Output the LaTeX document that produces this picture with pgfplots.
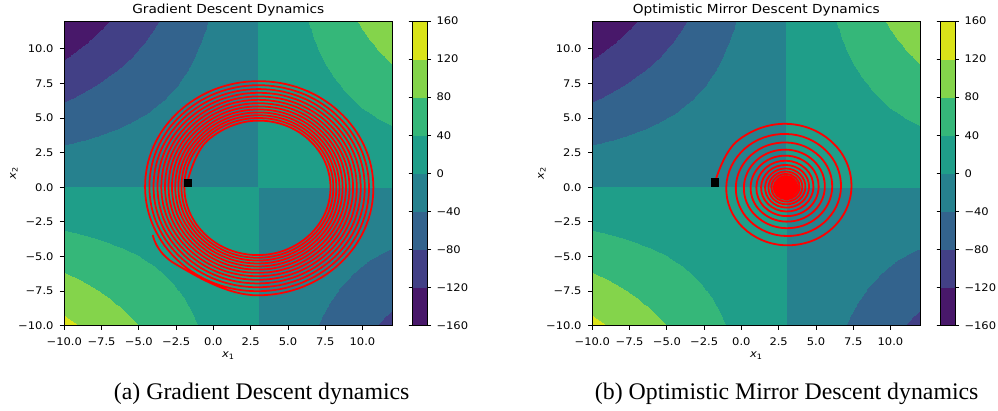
\documentclass[border=0pt]{standalone}
\usepackage{fontspec}
\setmainfont{DejaVu Sans}
\newfontfamily\tickfont[FakeStretch=1.1]{DejaVu Sans}
\newfontfamily\capfont{Liberation Serif}
\usepackage{pgfplots}
\usepackage{pgfplotstable}
\pgfplotsset{compat=1.18}

% f(x1,x2) = (x1-3) x2 on a unit grid (x varies fastest, 23 columns)
\pgfplotstableread[row sep=\\]{
x y z\\
-10 -10 130\\ -9 -10 120\\ -8 -10 110\\ -7 -10 100\\ -6 -10 90\\ -5 -10 80\\ -4 -10 70\\ -3 -10 60\\ -2 -10 50\\ -1 -10 40\\ 0 -10 30\\ 1 -10 20\\ 2 -10 10\\ 3 -10 0\\ 4 -10 -10\\ 5 -10 -20\\ 6 -10 -30\\ 7 -10 -40\\ 8 -10 -50\\ 9 -10 -60\\ 10 -10 -70\\ 11 -10 -80\\ 12 -10 -90\\
-10 -9 117\\ -9 -9 108\\ -8 -9 99\\ -7 -9 90\\ -6 -9 81\\ -5 -9 72\\ -4 -9 63\\ -3 -9 54\\ -2 -9 45\\ -1 -9 36\\ 0 -9 27\\ 1 -9 18\\ 2 -9 9\\ 3 -9 0\\ 4 -9 -9\\ 5 -9 -18\\ 6 -9 -27\\ 7 -9 -36\\ 8 -9 -45\\ 9 -9 -54\\ 10 -9 -63\\ 11 -9 -72\\ 12 -9 -81\\
-10 -8 104\\ -9 -8 96\\ -8 -8 88\\ -7 -8 80\\ -6 -8 72\\ -5 -8 64\\ -4 -8 56\\ -3 -8 48\\ -2 -8 40\\ -1 -8 32\\ 0 -8 24\\ 1 -8 16\\ 2 -8 8\\ 3 -8 0\\ 4 -8 -8\\ 5 -8 -16\\ 6 -8 -24\\ 7 -8 -32\\ 8 -8 -40\\ 9 -8 -48\\ 10 -8 -56\\ 11 -8 -64\\ 12 -8 -72\\
-10 -7 91\\ -9 -7 84\\ -8 -7 77\\ -7 -7 70\\ -6 -7 63\\ -5 -7 56\\ -4 -7 49\\ -3 -7 42\\ -2 -7 35\\ -1 -7 28\\ 0 -7 21\\ 1 -7 14\\ 2 -7 7\\ 3 -7 0\\ 4 -7 -7\\ 5 -7 -14\\ 6 -7 -21\\ 7 -7 -28\\ 8 -7 -35\\ 9 -7 -42\\ 10 -7 -49\\ 11 -7 -56\\ 12 -7 -63\\
-10 -6 78\\ -9 -6 72\\ -8 -6 66\\ -7 -6 60\\ -6 -6 54\\ -5 -6 48\\ -4 -6 42\\ -3 -6 36\\ -2 -6 30\\ -1 -6 24\\ 0 -6 18\\ 1 -6 12\\ 2 -6 6\\ 3 -6 0\\ 4 -6 -6\\ 5 -6 -12\\ 6 -6 -18\\ 7 -6 -24\\ 8 -6 -30\\ 9 -6 -36\\ 10 -6 -42\\ 11 -6 -48\\ 12 -6 -54\\
-10 -5 65\\ -9 -5 60\\ -8 -5 55\\ -7 -5 50\\ -6 -5 45\\ -5 -5 40\\ -4 -5 35\\ -3 -5 30\\ -2 -5 25\\ -1 -5 20\\ 0 -5 15\\ 1 -5 10\\ 2 -5 5\\ 3 -5 0\\ 4 -5 -5\\ 5 -5 -10\\ 6 -5 -15\\ 7 -5 -20\\ 8 -5 -25\\ 9 -5 -30\\ 10 -5 -35\\ 11 -5 -40\\ 12 -5 -45\\
-10 -4 52\\ -9 -4 48\\ -8 -4 44\\ -7 -4 40\\ -6 -4 36\\ -5 -4 32\\ -4 -4 28\\ -3 -4 24\\ -2 -4 20\\ -1 -4 16\\ 0 -4 12\\ 1 -4 8\\ 2 -4 4\\ 3 -4 0\\ 4 -4 -4\\ 5 -4 -8\\ 6 -4 -12\\ 7 -4 -16\\ 8 -4 -20\\ 9 -4 -24\\ 10 -4 -28\\ 11 -4 -32\\ 12 -4 -36\\
-10 -3 39\\ -9 -3 36\\ -8 -3 33\\ -7 -3 30\\ -6 -3 27\\ -5 -3 24\\ -4 -3 21\\ -3 -3 18\\ -2 -3 15\\ -1 -3 12\\ 0 -3 9\\ 1 -3 6\\ 2 -3 3\\ 3 -3 0\\ 4 -3 -3\\ 5 -3 -6\\ 6 -3 -9\\ 7 -3 -12\\ 8 -3 -15\\ 9 -3 -18\\ 10 -3 -21\\ 11 -3 -24\\ 12 -3 -27\\
-10 -2 26\\ -9 -2 24\\ -8 -2 22\\ -7 -2 20\\ -6 -2 18\\ -5 -2 16\\ -4 -2 14\\ -3 -2 12\\ -2 -2 10\\ -1 -2 8\\ 0 -2 6\\ 1 -2 4\\ 2 -2 2\\ 3 -2 0\\ 4 -2 -2\\ 5 -2 -4\\ 6 -2 -6\\ 7 -2 -8\\ 8 -2 -10\\ 9 -2 -12\\ 10 -2 -14\\ 11 -2 -16\\ 12 -2 -18\\
-10 -1 13\\ -9 -1 12\\ -8 -1 11\\ -7 -1 10\\ -6 -1 9\\ -5 -1 8\\ -4 -1 7\\ -3 -1 6\\ -2 -1 5\\ -1 -1 4\\ 0 -1 3\\ 1 -1 2\\ 2 -1 1\\ 3 -1 0\\ 4 -1 -1\\ 5 -1 -2\\ 6 -1 -3\\ 7 -1 -4\\ 8 -1 -5\\ 9 -1 -6\\ 10 -1 -7\\ 11 -1 -8\\ 12 -1 -9\\
-10 0 0\\ -9 0 0\\ -8 0 0\\ -7 0 0\\ -6 0 0\\ -5 0 0\\ -4 0 0\\ -3 0 0\\ -2 0 0\\ -1 0 0\\ 0 0 0\\ 1 0 0\\ 2 0 0\\ 3 0 0\\ 4 0 0\\ 5 0 0\\ 6 0 0\\ 7 0 0\\ 8 0 0\\ 9 0 0\\ 10 0 0\\ 11 0 0\\ 12 0 0\\
-10 1 -13\\ -9 1 -12\\ -8 1 -11\\ -7 1 -10\\ -6 1 -9\\ -5 1 -8\\ -4 1 -7\\ -3 1 -6\\ -2 1 -5\\ -1 1 -4\\ 0 1 -3\\ 1 1 -2\\ 2 1 -1\\ 3 1 0\\ 4 1 1\\ 5 1 2\\ 6 1 3\\ 7 1 4\\ 8 1 5\\ 9 1 6\\ 10 1 7\\ 11 1 8\\ 12 1 9\\
-10 2 -26\\ -9 2 -24\\ -8 2 -22\\ -7 2 -20\\ -6 2 -18\\ -5 2 -16\\ -4 2 -14\\ -3 2 -12\\ -2 2 -10\\ -1 2 -8\\ 0 2 -6\\ 1 2 -4\\ 2 2 -2\\ 3 2 0\\ 4 2 2\\ 5 2 4\\ 6 2 6\\ 7 2 8\\ 8 2 10\\ 9 2 12\\ 10 2 14\\ 11 2 16\\ 12 2 18\\
-10 3 -39\\ -9 3 -36\\ -8 3 -33\\ -7 3 -30\\ -6 3 -27\\ -5 3 -24\\ -4 3 -21\\ -3 3 -18\\ -2 3 -15\\ -1 3 -12\\ 0 3 -9\\ 1 3 -6\\ 2 3 -3\\ 3 3 0\\ 4 3 3\\ 5 3 6\\ 6 3 9\\ 7 3 12\\ 8 3 15\\ 9 3 18\\ 10 3 21\\ 11 3 24\\ 12 3 27\\
-10 4 -52\\ -9 4 -48\\ -8 4 -44\\ -7 4 -40\\ -6 4 -36\\ -5 4 -32\\ -4 4 -28\\ -3 4 -24\\ -2 4 -20\\ -1 4 -16\\ 0 4 -12\\ 1 4 -8\\ 2 4 -4\\ 3 4 0\\ 4 4 4\\ 5 4 8\\ 6 4 12\\ 7 4 16\\ 8 4 20\\ 9 4 24\\ 10 4 28\\ 11 4 32\\ 12 4 36\\
-10 5 -65\\ -9 5 -60\\ -8 5 -55\\ -7 5 -50\\ -6 5 -45\\ -5 5 -40\\ -4 5 -35\\ -3 5 -30\\ -2 5 -25\\ -1 5 -20\\ 0 5 -15\\ 1 5 -10\\ 2 5 -5\\ 3 5 0\\ 4 5 5\\ 5 5 10\\ 6 5 15\\ 7 5 20\\ 8 5 25\\ 9 5 30\\ 10 5 35\\ 11 5 40\\ 12 5 45\\
-10 6 -78\\ -9 6 -72\\ -8 6 -66\\ -7 6 -60\\ -6 6 -54\\ -5 6 -48\\ -4 6 -42\\ -3 6 -36\\ -2 6 -30\\ -1 6 -24\\ 0 6 -18\\ 1 6 -12\\ 2 6 -6\\ 3 6 0\\ 4 6 6\\ 5 6 12\\ 6 6 18\\ 7 6 24\\ 8 6 30\\ 9 6 36\\ 10 6 42\\ 11 6 48\\ 12 6 54\\
-10 7 -91\\ -9 7 -84\\ -8 7 -77\\ -7 7 -70\\ -6 7 -63\\ -5 7 -56\\ -4 7 -49\\ -3 7 -42\\ -2 7 -35\\ -1 7 -28\\ 0 7 -21\\ 1 7 -14\\ 2 7 -7\\ 3 7 0\\ 4 7 7\\ 5 7 14\\ 6 7 21\\ 7 7 28\\ 8 7 35\\ 9 7 42\\ 10 7 49\\ 11 7 56\\ 12 7 63\\
-10 8 -104\\ -9 8 -96\\ -8 8 -88\\ -7 8 -80\\ -6 8 -72\\ -5 8 -64\\ -4 8 -56\\ -3 8 -48\\ -2 8 -40\\ -1 8 -32\\ 0 8 -24\\ 1 8 -16\\ 2 8 -8\\ 3 8 0\\ 4 8 8\\ 5 8 16\\ 6 8 24\\ 7 8 32\\ 8 8 40\\ 9 8 48\\ 10 8 56\\ 11 8 64\\ 12 8 72\\
-10 9 -117\\ -9 9 -108\\ -8 9 -99\\ -7 9 -90\\ -6 9 -81\\ -5 9 -72\\ -4 9 -63\\ -3 9 -54\\ -2 9 -45\\ -1 9 -36\\ 0 9 -27\\ 1 9 -18\\ 2 9 -9\\ 3 9 0\\ 4 9 9\\ 5 9 18\\ 6 9 27\\ 7 9 36\\ 8 9 45\\ 9 9 54\\ 10 9 63\\ 11 9 72\\ 12 9 81\\
-10 10 -130\\ -9 10 -120\\ -8 10 -110\\ -7 10 -100\\ -6 10 -90\\ -5 10 -80\\ -4 10 -70\\ -3 10 -60\\ -2 10 -50\\ -1 10 -40\\ 0 10 -30\\ 1 10 -20\\ 2 10 -10\\ 3 10 0\\ 4 10 10\\ 5 10 20\\ 6 10 30\\ 7 10 40\\ 8 10 50\\ 9 10 60\\ 10 10 70\\ 11 10 80\\ 12 10 90\\
-10 11 -143\\ -9 11 -132\\ -8 11 -121\\ -7 11 -110\\ -6 11 -99\\ -5 11 -88\\ -4 11 -77\\ -3 11 -66\\ -2 11 -55\\ -1 11 -44\\ 0 11 -33\\ 1 11 -22\\ 2 11 -11\\ 3 11 0\\ 4 11 11\\ 5 11 22\\ 6 11 33\\ 7 11 44\\ 8 11 55\\ 9 11 66\\ 10 11 77\\ 11 11 88\\ 12 11 99\\
-10 12 -156\\ -9 12 -144\\ -8 12 -132\\ -7 12 -120\\ -6 12 -108\\ -5 12 -96\\ -4 12 -84\\ -3 12 -72\\ -2 12 -60\\ -1 12 -48\\ 0 12 -36\\ 1 12 -24\\ 2 12 -12\\ 3 12 0\\ 4 12 12\\ 5 12 24\\ 6 12 36\\ 7 12 48\\ 8 12 60\\ 9 12 72\\ 10 12 84\\ 11 12 96\\ 12 12 108\\
}\fdata

% Gradient descent trajectory
\pgfplotstableread[row sep=\\]{
x y\\
-1.75 0.35\\ -0.382 3.382\\ 3 4.807\\ 6.416 3.416\\ 7.854 0\\ 6.449 -3.449\\ 3 -4.901\\ -0.482 -3.482\\
-1.948 0\\ -0.516 3.516\\ 3 4.997\\ 6.551 3.551\\ 8.046 0\\ 6.585 -3.585\\ 3 -5.095\\ -0.620 -3.620\\
-2.144 0\\ -0.655 3.655\\ 3 5.195\\ 6.691 3.691\\ 8.246 0\\ 6.727 -3.727\\ 3 -5.297\\ -0.764 -3.764\\
-2.348 0\\ -0.800 3.800\\ 3 5.401\\ 6.837 3.837\\ 8.454 0\\ 6.875 -3.875\\ 3 -5.506\\ -0.912 -3.912\\
-2.559 0\\ -0.950 3.950\\ 3 5.614\\ 6.989 3.989\\ 8.669 0\\ 7.028 -4.028\\ 3 -5.724\\ -1.067 -4.067\\
-2.779 0\\ -1.107 4.107\\ 3 5.836\\ 7.147 4.147\\ 8.893 0\\ 7.188 -4.188\\ 3 -5.951\\ -1.228 -4.228\\
-3.008 0\\ -1.269 4.269\\ 3 6.067\\ 7.311 4.311\\ 9.127 0\\ 7.353 -4.353\\ 3 -6.186\\ -1.395 -4.395\\
-3.245 0\\ -1.438 4.438\\ 3 6.307\\ 7.482 4.482\\ 9.369 0\\ 7.525 -4.525\\ 3 -6.430\\ -1.569 -4.569\\
-3.492 0\\ -1.613 4.613\\ 3 6.556\\ 7.659 4.659\\ 9.620 0\\ 7.704 -4.704\\ 3 -6.685\\ -1.750 -4.750\\
-3.749 0\\ -1.796 4.796\\ 3 6.816\\ 7.843 4.843\\ 9.883 0\\ 7.890 -4.890\\ 3 -6.949\\ -1.938 -4.938\\
-4.016 0\\ -1.986 4.986\\ 3 7.085\\ 8.035 5.035\\ 10.155 0\\ 8.084 -5.084\\ 3 -7.224\\ -2.133 -5.133\\
-4.293 0\\ -2.182 5.182\\ 3 7.365\\ 8.233 5.233\\ 10.437 0\\ 8.285 -5.285\\ 3 -7.510\\ -2.336 -5.336\\
-4.582 0\\ -2.388 5.388\\ 3 7.657\\ 8.441 5.441\\ 10.732 0\\ 8.494 -5.494\\ 3 -7.807\\ -2.547 -5.547\\
-4.065 -3.446\\
}\gd

% Optimistic mirror descent trajectory
\pgfplotstableread[row sep=\\]{
x y\\
-1.77 0.36\\ -0.307 3.307\\ 3 4.576\\ 6.166 3.166\\ 7.381 0\\ 6.031 -3.031\\ 3 -4.194\\ 0.098 -2.902\\
-1.015 0\\ 0.222 2.778\\ 3 3.844\\ 5.659 2.659\\ 6.680 0\\ 5.546 -2.546\\ 3 -3.523\\ 0.563 -2.437\\
-0.373 0\\ 0.666 2.334\\ 3 3.229\\ 5.234 2.234\\ 6.091 0\\ 5.139 -2.139\\ 3 -2.960\\ 0.952 -2.048\\
0.167 0\\ 1.040 1.960\\ 3 2.712\\ 4.877 1.877\\ 5.597 0\\ 4.796 -1.796\\ 3 -2.486\\ 1.280 -1.720\\
0.620 0\\ 1.353 1.647\\ 3 2.278\\ 4.576 1.576\\ 5.181 0\\ 4.509 -1.509\\ 3 -2.088\\ 1.555 -1.445\\
1.001 0\\ 1.617 1.383\\ 3 1.914\\ 4.324 1.324\\ 4.832 0\\ 4.268 -1.268\\ 3 -1.754\\ 1.787 -1.213\\
1.321 0\\ 1.838 1.162\\ 3 1.607\\ 4.112 1.112\\ 4.539 0\\ 4.065 -1.065\\ 3 -1.473\\ 1.981 -1.019\\
1.589 0\\ 2.024 0.976\\ 3 1.351\\ 3.935 0.935\\ 4.293 0\\ 3.895 -0.895\\ 3 -1.238\\ 2.143 -0.857\\
1.815 0\\ 2.180 0.820\\ 3 1.134\\ 3.785 0.785\\ 4.086 0\\ 3.751 -0.751\\ 3 -1.040\\ 2.281 -0.719\\
2.005 0\\ 2.312 0.688\\ 3 0.953\\ 3.659 0.659\\ 3.912 0\\ 3.631 -0.631\\ 3 -0.873\\ 2.396 -0.604\\
2.164 0\\ 2.434 0.566\\ 3 0.800\\ 3.542 0.542\\ 3.766 0\\ 3.519 -0.519\\ 3 -0.734\\ 2.503 -0.497\\
2.298 0\\ 2.525 0.475\\ 3 0.672\\ 3.455 0.455\\ 3.643 0\\ 3.436 -0.436\\ 3 -0.616\\ 2.583 -0.417\\
2.410 0\\ 2.601 0.399\\ 3 0.565\\ 3.382 0.382\\ 3.541 0\\ 3.366 -0.366\\ 3 -0.518\\ 2.650 -0.350\\
2.504 0\\ 2.664 0.336\\ 3 0.475\\ 3.322 0.322\\ 3.455 0\\ 3.308 -0.308\\ 3 -0.435\\ 2.706 -0.294\\
2.584 0\\ 2.718 0.282\\ 3 0.398\\ 3.270 0.270\\ 3.381 0\\ 3.258 -0.258\\ 3 -0.365\\ 2.753 -0.247\\
2.650 0\\ 2.763 0.237\\ 3 0.335\\ 3.227 0.227\\ 3.321 0\\ 3.217 -0.217\\ 3 -0.307\\ 2.792 -0.208\\
2.706 0\\ 2.801 0.199\\ 3 0.281\\ 3.191 0.191\\ 3.269 0\\ 3.182 -0.182\\ 3 -0.258\\ 2.825 -0.175\\
2.753 0\\ 2.833 0.167\\ 3 0.236\\ 3.160 0.160\\ 3.226 0\\ 3.153 -0.153\\ 3 -0.217\\ 2.853 -0.147\\
2.793 0\\ 2.860 0.140\\ 3 0.198\\ 3.134 0.134\\ 3.190 0\\ 3.129 -0.129\\ 3 -0.182\\ 2.877 -0.123\\
2.826 0\\ 2.882 0.118\\ 3 0.167\\ 3.113 0.113\\ 3.160 0\\ 3.108 -0.108\\ 3 -0.153\\ 2.897 -0.103\\
2.854 0\\ 2.901 0.099\\ 3 0.140\\ 3.095 0.095\\ 3.134 0\\ 3.091 -0.091\\ 3 -0.128\\ 2.913 -0.087\\
2.877 0\\ 2.917 0.083\\ 3 0.118\\ 3.080 0.080\\ 3.113 0\\ 3.076 -0.076\\ 3 -0.108\\ 2.927 -0.073\\
2.897 0\\ 2.930 0.070\\ 3 0.099\\ 3.067 0.067\\ 3.094 0\\ 3.064 -0.064\\ 3 -0.090\\ 2.939 -0.061\\
2.913 0\\ 2.942 0.058\\ 3 0.083\\ 3.056 0.056\\ 3.080 0\\ 3.053 -0.053\\ 3 -0.076\\ 2.949 -0.051\\
2.927 0\\
}\omd

\pgfplotsset{
  mycontour/.style={
    scale only axis, width=328bp, height=304.7bp,
    view={0}{90},
    xmin=-10, xmax=12, ymin=-10, ymax=12, enlargelimits=false,
    axis on top,
    colormap={vir8}{rgb255=(72,24,106) rgb255=(66,64,134) rgb255=(51,99,141) rgb255=(38,129,142) rgb255=(31,158,137) rgb255=(53,183,121) rgb255=(132,212,75) rgb255=(218,227,25)},
    colormap access=piecewise constant,
    point meta min=-160, point meta max=160,
    xtick={-10,-7.5,-5,-2.5,0,2.5,5,7.5,10},
    xticklabels={−10.0,−7.5,−5.0,−2.5,0.0,2.5,5.0,7.5,10.0},
    ytick={-10,-7.5,-5,-2.5,0,2.5,5,7.5,10},
    yticklabels={−10.0,−7.5,−5.0,−2.5,0.0,2.5,5.0,7.5,10.0},
    tick align=outside, xtick pos=left, ytick pos=left,
    major tick length=4.3bp,
    tick style={black, line width=0.8bp},
    axis line style={black, line width=0.8bp},
    xticklabel style={anchor=base, yshift=-15.5bp, font=\tickfont\fontsize{10.5}{12}\selectfont},
    yticklabel style={anchor=east, inner sep=0pt, xshift=-6.3bp, font=\tickfont\fontsize{10.5}{12}\selectfont},
    title style={at={(axis description cs:0.5,1.0056)}, anchor=base, font=\tickfont\fontsize{12.5}{14}\selectfont},
    xlabel style={at={(axis description cs:0.5,-0.106)}, anchor=base, font=\tickfont\fontsize{10.5}{12}\selectfont},
    ylabel style={at={(axis description cs:-0.1473,0.5)}, anchor=base, font=\tickfont\fontsize{10.5}{12}\selectfont},
    xlabel={\itshape x\textsubscript{\upshape 1}},
    ylabel={\itshape x\textsubscript{\upshape 2}},
    colorbar,
    colorbar style={
      scale only axis, width=14.5bp, height=304.7bp,
      at={(parent axis.north east)}, anchor=north west, xshift=11.7bp,
      colormap access=piecewise constant,
      ytick={-160,-120,-80,-40,0,40,80,120,160},
      yticklabels={−160,−120,−80,−40,0,40,80,120,160},
      tick align=outside, major tick length=4bp,
      tick style={black, line width=0.8bp},
      axis line style={black, line width=0.8bp},
      yticklabel style={anchor=west, inner sep=0pt, xshift=5.3bp, font=\tickfont\fontsize{10.5}{12}\selectfont},
    },
  },
}

\begin{document}
\begin{tikzpicture}
\useasboundingbox (0,0) rectangle (998bp,411bp);
\begin{axis}[mycontour, at={(64.3bp,85.3bp)}, anchor=south west,
  title={Gradient Descent Dynamics}]
  \addplot3[surf, shader=interp, mesh/cols=23] table {\fdata};
  \addplot[red, line width=1.75bp, smooth, tension=0.68] table {\gd};
  \addplot[only marks, mark=square*, mark size=3.6bp, black] coordinates {(-1.75,0.35)};
\end{axis}
\begin{axis}[mycontour, at={(592.3bp,85.3bp)}, anchor=south west,
  title={Optimistic Mirror Descent Dynamics}]
  \addplot3[surf, shader=interp, mesh/cols=23] table {\fdata};
  \addplot[red, line width=1.8bp, smooth, tension=0.68] table {\omd};
  \addplot[only marks, mark=square*, mark size=3.6bp, black] coordinates {(-1.77,0.36)};
\end{axis}
\node[anchor=base, font=\capfont\fontsize{23.9}{28}\selectfont] at (261.7bp,11.7bp) {(a) Gradient Descent dynamics};
\node[anchor=base, font=\capfont\fontsize{23.9}{28}\selectfont] at (786.7bp,11.7bp) {(b) Optimistic Mirror Descent dynamics};
\end{tikzpicture}
\end{document}
